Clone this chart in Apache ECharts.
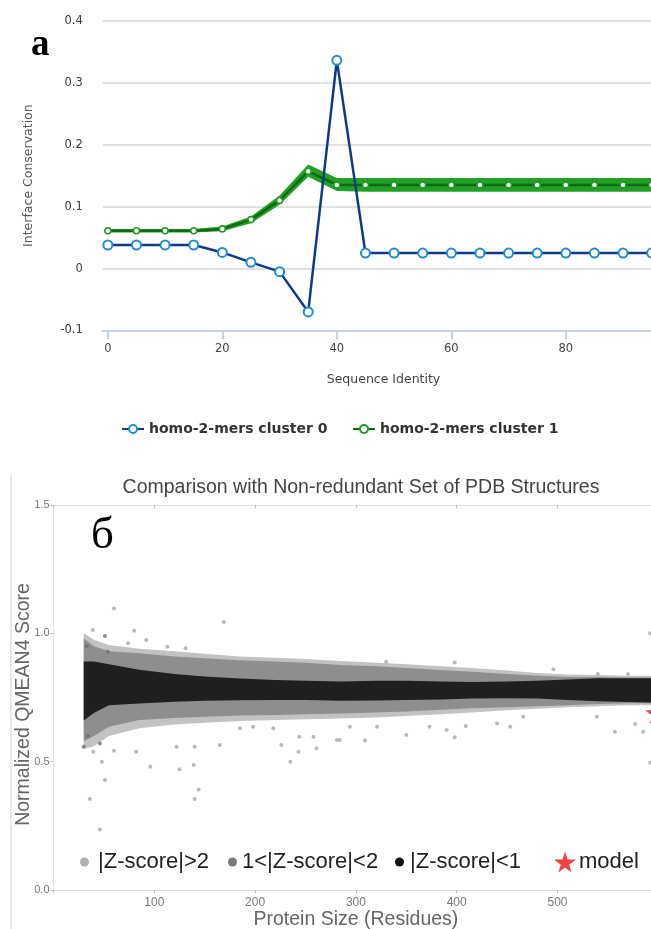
<!DOCTYPE html>
<html>
<head>
<meta charset="utf-8">
<script src="https://cdn.jsdelivr.net/npm/echarts@6/dist/echarts.min.js"></script>
<style>
  html, body { margin: 0; padding: 0; background: #fff; }
  #chart { width: 651px; height: 929px; }
</style>
</head>
<body>
<div id="chart"></div>
<script>
// ---- panel а: interface conservation vs sequence identity ----
const identity = [0, 5, 10, 15, 20, 25, 30, 35, 40, 45, 50, 55, 60, 65, 70, 75, 80, 85, 90, 95, 100];
const cluster0 = [0.038, 0.038, 0.038, 0.038, 0.026, 0.010, -0.005, -0.070, 0.336, 0.025, 0.025, 0.025, 0.025, 0.025, 0.025, 0.025, 0.025, 0.025, 0.025, 0.025, 0.025];
const cluster1 = [0.061, 0.061, 0.061, 0.061, 0.064, 0.079, 0.110, 0.157, 0.135, 0.135, 0.135, 0.135, 0.135, 0.135, 0.135, 0.135, 0.135, 0.135, 0.135, 0.135, 0.135];
const cluster1Low = [0.058, 0.058, 0.058, 0.058, 0.060, 0.073, 0.103, 0.148, 0.125, 0.124, 0.124, 0.124, 0.124, 0.124, 0.124, 0.124, 0.124, 0.124, 0.124, 0.124, 0.124];
const cluster1High = [0.064, 0.064, 0.064, 0.064, 0.068, 0.084, 0.118, 0.168, 0.146, 0.146, 0.146, 0.146, 0.146, 0.146, 0.146, 0.146, 0.146, 0.146, 0.146, 0.146, 0.146];
const identityTicks = [0, 20, 40, 60, 80, 100];

// ---- panel б: normalized QMEAN4 score vs protein size ----
const sizes = [30, 40, 55, 85, 120, 150, 185, 220, 250, 285, 320, 350, 385, 415, 450, 480, 510, 540, 570, 600];
const coreLow  = [0.66, 0.69, 0.72, 0.727, 0.733, 0.737, 0.739, 0.740, 0.740, 0.737, 0.738, 0.740, 0.742, 0.746, 0.747, 0.746, 0.740, 0.735, 0.732, 0.730];
const coreHigh = [0.89, 0.89, 0.88, 0.858, 0.842, 0.832, 0.824, 0.818, 0.815, 0.812, 0.815, 0.815, 0.812, 0.810, 0.812, 0.815, 0.820, 0.825, 0.825, 0.825];
const midLow   = [0.58, 0.60, 0.636, 0.662, 0.670, 0.675, 0.680, 0.682, 0.685, 0.688, 0.692, 0.695, 0.702, 0.708, 0.712, 0.716, 0.720, 0.725, 0.728, 0.728];
const midHigh  = [0.98, 0.95, 0.930, 0.922, 0.910, 0.903, 0.895, 0.890, 0.885, 0.877, 0.872, 0.865, 0.857, 0.850, 0.842, 0.835, 0.830, 0.830, 0.828, 0.828];
const outerLow = [0.55, 0.56, 0.600, 0.630, 0.645, 0.652, 0.658, 0.662, 0.665, 0.668, 0.672, 0.678, 0.685, 0.692, 0.700, 0.706, 0.712, 0.716, 0.720, 0.720];
const outerHigh= [1.00, 0.975, 0.955, 0.940, 0.930, 0.920, 0.910, 0.905, 0.900, 0.892, 0.885, 0.880, 0.872, 0.865, 0.855, 0.845, 0.840, 0.838, 0.835, 0.835];
const farOutliers = [
  [60, 1.097], [169, 1.044], [39, 1.013], [80, 1.01], [92, 0.974], [74, 0.961], [131, 0.942], [113, 0.948],
  [39.5, 0.539], [48, 0.50], [60, 0.543], [82, 0.539], [96, 0.48], [125, 0.47], [139, 0.487], [51, 0.429],
  [144, 0.392], [36, 0.355], [140, 0.355], [46, 0.236], [122, 0.558], [140, 0.558], [165, 0.565], [226, 0.565],
  [235, 0.50], [243, 0.539], [261, 0.552], [185, 0.63], [198, 0.636], [218, 0.63], [244, 0.597], [258, 0.597],
  [281, 0.584], [330, 0.889], [398, 0.886], [496, 0.86], [540, 0.842], [570, 0.842], [592, 1.0], [309, 0.582],
  [350, 0.604], [398, 0.595], [373, 0.636], [390, 0.623], [409, 0.639], [440, 0.649], [453, 0.636], [466, 0.675],
  [557, 0.617], [577, 0.647], [585, 0.617], [592, 0.496], [539, 0.675], [294, 0.636], [284, 0.584], [321, 0.636]
];
const nearOutliers = [[51, 0.99], [54, 0.928], [30, 0.558], [46, 0.571], [34, 0.60], [33, 0.95]];
const modelScore = [[598, 0.69]];

const STAR = 'path://M50,0 L61,35 L98,35 L68,57 L79,91 L50,70 L21,91 L32,57 L2,35 L39,35 Z';

// filled band between a lower and an upper edge, placed through the axes
function band(xs, lo, hi, color) {
  return function (params, api) {
    const pts = [];
    for (let i = 0; i < xs.length; i++) pts.push(api.coord([xs[i], hi[i]]));
    for (let i = xs.length - 1; i >= 0; i--) pts.push(api.coord([xs[i], lo[i]]));
    return { type: 'polygon', shape: { points: pts }, style: { fill: color } };
  };
}

const chart = echarts.init(document.getElementById('chart'), null, { renderer: 'canvas' });
const fontA = 'DejaVu Sans';
const fontB = 'Liberation Sans';
const legendB = (name, icon, left, w, h, pad) => ({
  data: [{ name, icon }], left, top: 851, padding: 0, itemWidth: w, itemHeight: h,
  textStyle: { fontFamily: fontB, fontSize: 22, color: '#222', padding: [0, 0, 0, pad] }
});

chart.setOption({
  animation: false,
  backgroundColor: '#fff',
  grid: [
    { left: 102.7, right: -29.3, top: 20.7, height: 309.8, outerBoundsMode: 'none', containLabel: false },
    { left: 53.5, right: -7.3, top: 505, height: 385, outerBoundsMode: 'none', containLabel: false }
  ],
  title: {
    text: 'Comparison with Non-redundant Set of PDB Structures',
    left: 356, top: 473, textAlign: 'center',
    textStyle: { fontFamily: fontB, fontSize: 19.5, fontWeight: 'normal', color: '#444' }
  },
  legend: [
    { data: ['homo-2-mers cluster 0'], left: 116, top: 417, itemWidth: 22, itemHeight: 10,
      textStyle: { fontFamily: fontA, fontSize: 14, fontWeight: 'bold', color: '#333' } },
    { data: ['homo-2-mers cluster 1'], left: 347, top: 417, itemWidth: 22, itemHeight: 10,
      textStyle: { fontFamily: fontA, fontSize: 14, fontWeight: 'bold', color: '#333' } },
    legendB('|Z-score|>2', 'circle', 80, 9, 9, 4),
    legendB('1<|Z-score|<2', 'circle', 228, 9, 9, 0),
    legendB('|Z-score|<1', 'circle', 395, 9, 9, 1),
    legendB('model', STAR, 554, 22, 21, -2)
  ],
  xAxis: [
    {
      gridIndex: 0, type: 'value', min: -0.9, max: 100,
      name: 'Sequence Identity', nameLocation: 'middle', nameGap: 43,
      nameTextStyle: { fontFamily: fontA, fontSize: 12.5, color: '#444', padding: [0, 16, 0, 0] },
      axisLine: { onZero: false, lineStyle: { color: '#c3d3e3', width: 2 } },
      axisTick: { length: 9, lineStyle: { color: '#c3d3e3', width: 2 }, customValues: identityTicks },
      axisLabel: { customValues: identityTicks, margin: 13, fontFamily: fontA, fontSize: 11.5, color: '#444' },
      splitLine: { show: false }
    },
    {
      gridIndex: 1, type: 'value', min: 0, max: 600, interval: 100,
      name: 'Protein Size (Residues)', nameLocation: 'middle', nameGap: 18,
      nameTextStyle: { fontFamily: fontB, fontSize: 19.5, color: '#666' },
      axisLine: { onZero: false, lineStyle: { color: '#e0e0e0', width: 1 } },
      axisTick: { length: 3, lineStyle: { color: '#bbb' } },
      axisLabel: { margin: 7, fontFamily: fontB, fontSize: 12, color: '#777',
        formatter: v => (v === 0 || v === 600) ? '' : String(v) },
      splitLine: { show: false }
    },
    {
      gridIndex: 1, type: 'value', position: 'top', min: 0, max: 600, interval: 100,
      axisLine: { onZero: false, lineStyle: { color: '#e0e0e0', width: 1 } },
      axisTick: { inside: true, length: 3, lineStyle: { color: '#bbb' } },
      axisLabel: { show: false },
      splitLine: { show: false }
    }
  ],
  yAxis: [
    {
      gridIndex: 0, type: 'value', min: -0.1, max: 0.4, interval: 0.1,
      name: 'Interface Conservation', nameLocation: 'middle', nameGap: 67,
      nameTextStyle: { fontFamily: fontA, fontSize: 12.5, color: '#555' },
      axisLine: { show: false }, axisTick: { show: false },
      axisLabel: { margin: 20, fontFamily: fontA, fontSize: 11.5, color: '#3a3a3a' },
      splitLine: { lineStyle: { color: '#d6d6d6', width: 1.6 } }
    },
    {
      gridIndex: 1, type: 'value', min: 0, max: 1.5, interval: 0.5,
      name: 'Normalized QMEAN4 Score', nameLocation: 'middle', nameGap: 20, nameMoveOverlap: false,
      nameTextStyle: { fontFamily: fontB, fontSize: 19.5, color: '#666', padding: [0, 14, 0, 0] },
      axisLine: { show: true, onZero: false, lineStyle: { color: '#e0e0e0', width: 1 } },
      axisTick: { show: true, length: 3, lineStyle: { color: '#bbb' } },
      axisLabel: { margin: 4, fontFamily: fontB, fontSize: 11, color: '#777', formatter: v => v.toFixed(1) },
      splitLine: { show: false }
    }
  ],
  series: [
    // panel а
    {
      type: 'custom', name: 'cluster 1 range', xAxisIndex: 0, yAxisIndex: 0, silent: true, z: 1,
      data: [0], renderItem: band(identity, cluster1Low, cluster1High, '#22a026')
    },
    {
      type: 'line', name: 'homo-2-mers cluster 1', xAxisIndex: 0, yAxisIndex: 0, z: 3,
      data: identity.map((x, i) => [x, cluster1[i]]),
      symbol: 'circle', symbolSize: 6, showAllSymbol: true,
      lineStyle: { color: '#0b6a12', width: 2.5 },
      itemStyle: { color: '#ffffff', borderColor: '#1f9a24', borderWidth: 1.6 }
    },
    {
      type: 'line', name: 'homo-2-mers cluster 0', xAxisIndex: 0, yAxisIndex: 0, z: 4,
      data: identity.map((x, i) => [x, cluster0[i]]),
      symbol: 'circle', symbolSize: 9, showAllSymbol: true,
      lineStyle: { color: '#0c3a8c', width: 2.5 },
      itemStyle: { color: '#ffffff', borderColor: '#1f8dd0', borderWidth: 2 }
    },
    // panel б
    {
      type: 'custom', name: '|Z-score|>2', xAxisIndex: 1, yAxisIndex: 1, silent: true, z: 1,
      itemStyle: { color: '#b0b0b0' },
      data: [0], renderItem: band(sizes, outerLow, outerHigh, '#c2c2c2')
    },
    {
      type: 'custom', name: '1<|Z-score|<2', xAxisIndex: 1, yAxisIndex: 1, silent: true, z: 2,
      itemStyle: { color: '#7a7a7a' },
      data: [0], renderItem: band(sizes, midLow, midHigh, '#8e8e8e')
    },
    {
      type: 'custom', name: '|Z-score|<1', xAxisIndex: 1, yAxisIndex: 1, silent: true, z: 3,
      itemStyle: { color: '#111' },
      data: [0], renderItem: band(sizes, coreLow, coreHigh, '#1f1f1f')
    },
    {
      type: 'scatter', name: '|Z-score|>2', xAxisIndex: 1, yAxisIndex: 1, z: 4,
      data: farOutliers, symbolSize: 4, itemStyle: { color: '#a9a9a9' }
    },
    {
      type: 'scatter', name: '1<|Z-score|<2', xAxisIndex: 1, yAxisIndex: 1, z: 4,
      data: nearOutliers, symbolSize: 4, itemStyle: { color: '#6e6e6e' }
    },
    {
      type: 'scatter', name: 'model', xAxisIndex: 1, yAxisIndex: 1, z: 6,
      data: modelScore, symbol: STAR, symbolSize: 22, itemStyle: { color: '#ee1111' }
    }
  ],
  graphic: [
    { type: 'line', shape: { x1: 11, y1: 475, x2: 11, y2: 929 }, style: { stroke: '#d3e2f0', lineWidth: 1.5 } },
    { type: 'text', left: 31, top: 27,
      style: { text: 'а', font: 'bold 37px "Liberation Serif"', fill: '#000' } },
    { type: 'text', left: 91, top: 514,
      style: { text: 'б', font: '45px "Liberation Serif"', fill: '#000' } }
  ]
});
</script>
</body>
</html>
